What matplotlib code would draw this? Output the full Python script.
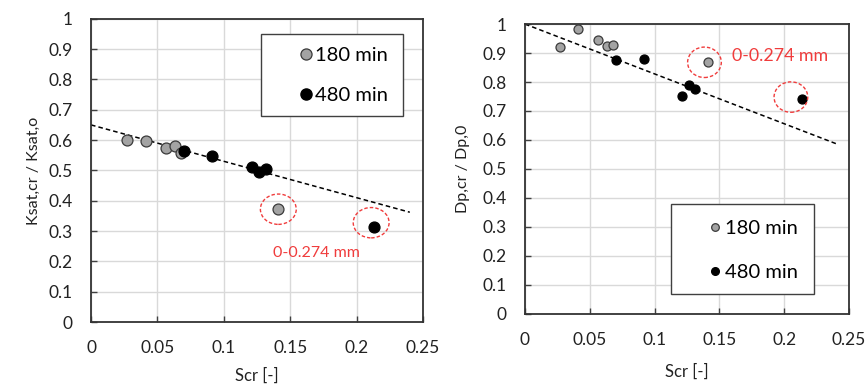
import matplotlib
matplotlib.use("Agg")
import matplotlib.pyplot as plt
from matplotlib.patches import Ellipse, Rectangle
from matplotlib.lines import Line2D

plt.rcParams['font.family'] = ['Lato', 'DejaVu Sans']

# Ksat panel
k180_x = [0.0273, 0.0412, 0.0567, 0.0632, 0.0678, 0.141]
k180_y = [0.601, 0.598, 0.574, 0.582, 0.557, 0.372]
k480_x = [0.070, 0.0913, 0.121, 0.1268, 0.1318, 0.2134]
k480_y = [0.563, 0.548, 0.512, 0.494, 0.506, 0.3125]
k_fit = (0.65, -1.2)  # intercept, slope

# Dp panel
d180_x = [0.0273, 0.0412, 0.0566, 0.063, 0.0682, 0.141]
d180_y = [0.922, 0.984, 0.944, 0.925, 0.927, 0.868]
d480_x = [0.0705, 0.0916, 0.1211, 0.1268, 0.1314, 0.2137]
d480_y = [0.877, 0.878, 0.751, 0.789, 0.777, 0.742]
d_fit = (1.0, -1.72)

x_ticks = [0, 0.05, 0.1, 0.15, 0.2, 0.25]
x_tick_labels = ["0", "0.05", "0.1", "0.15", "0.2", "0.25"]
y_ticks = [i / 10 for i in range(11)]
y_tick_labels = ["0"] + [f"{v:.1f}" for v in y_ticks[1:-1]] + ["1"]
series_names = ["180 min", "480 min"]

GRAY = "#a3a3a3"
EDGE = "#3a3a3a"
RED = "#f03c3c"

fig = plt.figure(figsize=(8.67, 3.85), dpi=100)
ax1 = fig.add_axes([0.105, 0.1636, 0.383, 0.7876])
ax2 = fig.add_axes([0.6055, 0.185, 0.3737, 0.7525])


def style(ax, ylabel, xpad, ypad):
    ax.set_xlim(0, 0.25)
    ax.set_ylim(0, 1)
    ax.set_xticks(x_ticks, x_tick_labels)
    ax.set_yticks(y_ticks, y_tick_labels)
    ax.tick_params(direction="in", length=4, width=1, color="#404040",
                   labelsize=12.5, labelcolor="#222222")
    ax.tick_params(axis="x", pad=13)
    ax.tick_params(axis="y", pad=13)
    ax.grid(True, color="#d9d9d9", linewidth=1)
    ax.set_axisbelow(True)
    for s in ax.spines.values():
        s.set_color("#333333")
        s.set_linewidth(1.3)
    ax.set_xlabel("Scr [-]", fontsize=12, color="#222222", labelpad=xpad)
    ax.set_ylabel(ylabel, fontsize=11.5, color="#222222", labelpad=ypad)


def legend_box(ax, x0, y0, x1, y1):
    ax.add_patch(Rectangle((x0, y0), x1 - x0, y1 - y0, transform=ax.transAxes,
                           facecolor="white", edgecolor="#404040", lw=1, zorder=6))


# left panel
style(ax1, "Ksat,cr / Ksat,o", 8, 5.5)
ax1.plot([0, 0.24], [k_fit[0], k_fit[0] + k_fit[1] * 0.24], ls=(0, (3, 2)),
         color="black", lw=1.1, zorder=2)
ax1.scatter(k180_x, k180_y, s=62, color=GRAY, edgecolors=EDGE, linewidths=0.9, zorder=3)
ax1.scatter(k480_x, k480_y, s=62, color="black", edgecolors="black", linewidths=0.9, zorder=4)
for cx, cy in [(k180_x[-1], k180_y[-1]), (k480_x[-1] - 0.0025, k480_y[-1] + 0.015)]:
    ax1.add_patch(Ellipse((cx, cy), 0.027, 0.1, fill=False, ec=RED,
                          ls=(0, (2.5, 1.5)), lw=1, zorder=5))
ax1.text(0.17, 0.226, "0-0.274 mm", color=RED, fontsize=11.5, ha="center", va="center")
legend_box(ax1, 0.512, 0.680, 0.940, 0.950)
h1 = [Line2D([], [], ls="", marker="o", ms=8, mfc=GRAY, mec=EDGE, mew=0.9),
      Line2D([], [], ls="", marker="o", ms=8, mfc="black", mec="black")]
leg1 = ax1.legend(h1, series_names, loc="upper left", bbox_to_anchor=(0.6295, 0.907),
                  fontsize=14.5, frameon=False, handletextpad=0.15, handlelength=0.6,
                  borderpad=0, labelspacing=1.12, borderaxespad=0)
leg1.set_zorder(7)

# right panel
style(ax2, "Dp,cr / Dp,0", 11.5, 9)
ax2.plot([0, 0.24], [d_fit[0], d_fit[0] + d_fit[1] * 0.24], ls=(0, (3, 2)),
         color="black", lw=1.1, zorder=2)
ax2.scatter(d180_x, d180_y, s=42, color=GRAY, edgecolors=EDGE, linewidths=0.9, zorder=3)
ax2.scatter(d480_x, d480_y, s=42, color="black", edgecolors="black", linewidths=0.9, zorder=4)
for cx, cy in [(d180_x[-1] - 0.0025, d180_y[-1]), (d480_x[-1] - 0.0085, d480_y[-1] + 0.006)]:
    ax2.add_patch(Ellipse((cx, cy), 0.026, 0.105, fill=False, ec=RED,
                          ls=(0, (2.5, 1.5)), lw=1, zorder=5))
ax2.text(0.1595, 0.89, "0-0.274 mm", color=RED, fontsize=12.8, ha="left", va="center")
legend_box(ax2, 0.451, 0.068, 0.892, 0.379)
h2 = [Line2D([], [], ls="", marker="o", ms=5.5, mfc=GRAY, mec=EDGE, mew=0.9),
      Line2D([], [], ls="", marker="o", ms=5.5, mfc="black", mec="black")]
leg2 = ax2.legend(h2, series_names, loc="upper left", bbox_to_anchor=(0.574, 0.325),
                  fontsize=14.5, frameon=False, handletextpad=0.3, handlelength=0.4,
                  borderpad=0, labelspacing=1.35, borderaxespad=0)
leg2.set_zorder(7)

fig.savefig("out.png", dpi=100)
